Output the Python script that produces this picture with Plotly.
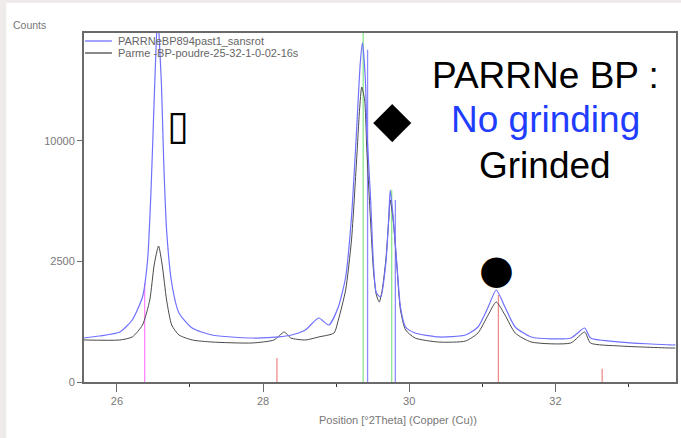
import numpy as np
import plotly.graph_objects as go

# ---------------- data (2Theta in degrees, intensities in counts) ----------------
two_theta_blue = [25.55, 25.76, 26.04, 26.21, 26.35, 26.42, 26.47, 26.51, 26.54, 26.56, 26.58,
                  26.61, 26.64, 26.68, 26.75, 26.85, 27.03, 27.30, 27.85, 28.22, 28.39, 28.58,
                  28.76, 28.90, 29.03, 29.13, 29.21, 29.28, 29.33, 29.36, 29.40, 29.42, 29.47,
                  29.51, 29.55, 29.61, 29.68, 29.72, 29.74, 29.78, 29.83, 29.88, 29.95, 30.08,
                  30.40, 30.77, 30.94, 31.08, 31.19, 31.31, 31.45, 31.67, 32.21, 32.40, 32.48,
                  32.89, 33.57, 33.64]
counts_blue = [333, 364, 430, 662, 1244, 2563, 6682, 13692, 20137, 24000, 20137,
               15187, 8485, 3978, 1688, 820, 502, 380, 333, 349, 380, 466,
               705, 559, 968, 1898, 4687, 10933, 17521, 19786, 15703, 10933, 5893,
               2438, 1364, 1244, 2438, 4687, 6347, 4687, 2438, 968, 521, 413,
               349, 380, 521, 968, 1457, 968, 521, 349, 333, 502, 333,
               275, 236, 236]

two_theta_black = [25.55, 26.04, 26.21, 26.35, 26.45, 26.51, 26.57, 26.62, 26.68, 26.75, 26.85,
                   27.03, 27.30, 27.85, 28.15, 28.29, 28.38, 28.58, 28.76, 28.97, 29.03, 29.13,
                   29.21, 29.28, 29.32, 29.35, 29.39, 29.42, 29.47, 29.51, 29.55, 29.59, 29.63,
                   29.68, 29.72, 29.74, 29.78, 29.83, 29.88, 29.95, 30.08, 30.40, 30.77, 30.94,
                   31.08, 31.19, 31.31, 31.45, 31.67, 32.21, 32.40, 32.48, 32.89, 33.57, 33.64]
counts_black = [304, 304, 349, 559, 1158, 2357, 3184, 2357, 1158, 559, 380,
                304, 275, 262, 304, 430, 333, 304, 349, 413, 662, 1457,
                3472, 8485, 12738, 14983, 13692, 9267, 4518, 2160, 1303, 1102, 1457,
                2563, 4518, 5703, 4518, 2357, 893, 466, 333, 275, 289, 413,
                773, 1102, 773, 413, 275, 262, 430, 262, 223, 199, 199]

# reference pattern sticks
stick_pos_pink = [26.38]
stick_cnt_pink = [1688]
stick_pos_red = [28.19, 31.22, 32.64]
stick_cnt_red = [99, 1303, 30]
stick_pos_green = [29.37, 29.76]
stick_cnt_green = [22000, 6347]
stick_pos_blue = [29.43, 29.81]
stick_cnt_blue = [19000, 5703]

y_tick_counts = [0, 2500, 10000]
x_major_ticks = [26, 28, 30, 32]

name_blue = "PARRNeBP894past1_sansrot"
name_black = "Parme -BP-poudre-25-32-1-0-02-16s"

# ---------------- figure ----------------
W, H = 681, 438
L, R, T, B = 84, 3, 33, 56
PW, PH = W - L - R, H - T - B


def px(x):
    return (x - L) / PW


def py(y):
    return (H - B - y) / PH


def sticks(pos, cnt):
    xs, ys = [], []
    for p, c in zip(pos, cnt):
        xs += [p, p, None]
        ys += [0, float(np.sqrt(c)), None]
    return xs, ys


fig = go.Figure()

for pos, cnt, col in [(stick_pos_pink, stick_cnt_pink, "#ff88ff"),
                      (stick_pos_red, stick_cnt_red, "#f08c8c"),
                      (stick_pos_green, stick_cnt_green, "#8ee68e"),
                      (stick_pos_blue, stick_cnt_blue, "#8c8cff")]:
    xs, ys = sticks(pos, cnt)
    fig.add_trace(go.Scatter(x=xs, y=ys, mode="lines", line=dict(color=col, width=1.3),
                             showlegend=False, hoverinfo="skip"))

col_black = "#4a4a4a"
col_blue = "#7070ff"
fig.add_trace(go.Scatter(x=two_theta_black, y=np.sqrt(counts_black), mode="lines",
                         name=name_black, showlegend=False,
                         line=dict(color=col_black, width=1, shape="spline", smoothing=0.6)))
fig.add_trace(go.Scatter(x=two_theta_blue, y=np.sqrt(counts_blue), mode="lines",
                         name=name_blue, showlegend=False,
                         line=dict(color=col_blue, width=1.2, shape="spline", smoothing=0.6)))

axis_col = "#6a6a6a"
tfont = dict(family="Liberation Sans, Arial", size=11, color="#777777")
fig.update_xaxes(range=[25.55, 33.65], showline=True, linecolor=axis_col, linewidth=2,
                 mirror=True, showgrid=False, zeroline=False,
                 tickmode="array", tickvals=x_major_ticks,
                 ticks="outside", ticklen=8, tickcolor=axis_col, tickwidth=1,
                 tickfont=tfont,
                 minor=dict(dtick=1, tick0=25, ticks="outside", ticklen=3,
                            tickcolor="#333333", showgrid=False))
fig.update_yaxes(range=[0, 144.8], showline=True, linecolor=axis_col, linewidth=2,
                 mirror=True, showgrid=False, zeroline=False,
                 tickmode="array", tickvals=[float(np.sqrt(v)) for v in y_tick_counts],
                 ticktext=[str(v) for v in y_tick_counts],
                 ticks="outside", ticklen=5, tickcolor=axis_col, tickwidth=1,
                 tickfont=tfont)

fig.update_layout(
    width=W, height=H,
    margin=dict(l=L, r=R, t=T, b=B),
    paper_bgcolor="#efebea", plot_bgcolor="white",
    showlegend=False,
)

shapes = [dict(type="rect", xref="paper", yref="paper", x0=px(6), x1=px(W + 2),
               y0=py(3), y1=py(H + 2), fillcolor="white", line=dict(width=0), layer="below")]
ann = []
# legend (inside plot, top-left)
for name, col, ly in [(name_blue, col_blue, 41), (name_black, col_black, 53)]:
    shapes.append(dict(type="line", xref="paper", yref="paper", x0=px(85), x1=px(112),
                       y0=py(ly), y1=py(ly), line=dict(color=col, width=1.3)))
    ann.append(dict(text=name, xref="paper", yref="paper", x=px(116), y=py(ly),
                    xanchor="left", yanchor="middle", showarrow=False,
                    font=dict(family="Liberation Sans, Arial", size=11, color="#666666")))

ann.append(dict(text="Counts", xref="paper", yref="paper", x=px(11), y=py(25),
                xanchor="left", yanchor="middle", showarrow=False,
                font=dict(family="Liberation Sans, Arial", size=10.5, color="#777777")))
ann.append(dict(text="Position [°2Theta] (Copper (Cu))", xref="paper", yref="paper",
                x=px(399), y=py(420), xanchor="center", yanchor="middle",
                showarrow=False,
                font=dict(family="Liberation Sans, Arial", size=11, color="#777777")))
for txt, cy, col in [("PARRNe BP :", 75, "black"), ("No grinding", 120, "#1f3dff"),
                     ("Grinded", 165, "black")]:
    ann.append(dict(text=txt, xref="paper", yref="paper", x=px(547),
                    y=py(cy), xanchor="center", yanchor="middle", showarrow=False,
                    font=dict(family="Liberation Sans, Arial", size=37, color=col)))
for txt, cx, cy, sz in [("▯", 178, 125, 40), ("◆", 394, 119, 50), ("●", 498, 269, 40)]:
    ann.append(dict(text=txt, xref="paper", yref="paper", x=px(cx),
                    y=py(cy), xanchor="center", yanchor="middle", showarrow=False,
                    font=dict(family="DejaVu Sans", size=sz, color="black")))
fig.update_layout(annotations=ann, shapes=shapes)

fig.write_html("out.html", config={"displayModeBar": False},
               post_script="document.body.style.margin='0';")
